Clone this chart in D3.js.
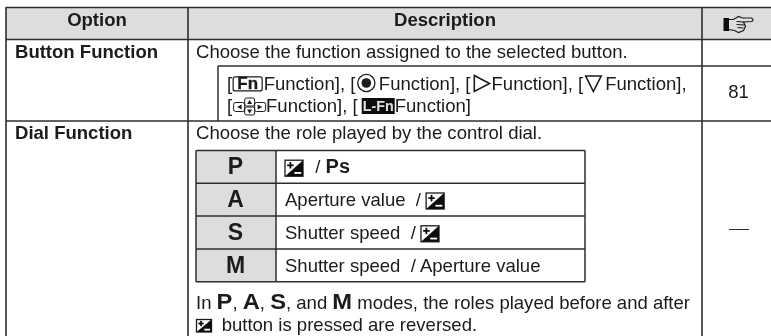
<!DOCTYPE html>
<html><head><meta charset="utf-8">
<script src="https://cdnjs.cloudflare.com/ajax/libs/d3/7.8.5/d3.min.js"></script>
<style>html,body{margin:0;padding:0;background:#fff}svg{display:block}text{font-family:"Liberation Sans",Arial,sans-serif;fill:#1a1a1a}</style>
</head><body><svg id="c" width="771" height="336"></svg>
<script>
const headers = ["Option","Description"];
const optionNames = ["Button Function","Dial Function"];
const intros = ["Choose the function assigned to the selected button.","Choose the role played by the control dial."];
const pageRefs = ["81","—"];
const modes = ["P","A","S","M"];
const functionLine1 = [["[",""],["","fn"],["Function], [",""],["","target"],["Function], [",""],["","right"],["Function], [",""],["","down"],["Function],",""]];
const functionLine2 = [["[",""],["","cross"],["Function], [",""],["","lfn"],["Function]",""]];
const modeRoles = [[["","ev"],["  / ",""],["Ps","b"]],[["Aperture value  / ",""],["","ev"]],[["Shutter speed  / ",""],["","ev"]],[["Shutter speed  / Aperture value",""]]];
const noteLine1 = [["In ",""],["P","B"],[", ",""],["A","B"],[", ",""],["S","B"],[", and ",""],["M","B"],[" modes, the roles played before and after",""]];
const noteLine2 = [["","ev"],[" button is pressed are reversed.",""]];

const W=771,H=336,FS=18.55,INK="#1a1a1a",LINE="#2e2e2e",GRAY="#dddddd";
const svg=d3.select("#c");
svg.append("defs").append("filter").attr("id","soft").attr("x",0).attr("y",0).attr("width","100%").attr("height","100%").append("feGaussianBlur").attr("stdDeviation",.35);
const g=svg.append("g").attr("filter","url(#soft)");
g.append("rect").attr("width",W).attr("height",H).attr("fill","#fff");
function rect(x,y,w,h,fill,p){return (p||g).append("rect").attr("x",x).attr("y",y).attr("width",w).attr("height",h).attr("fill",fill);}
function line(x1,y1,x2,y2,sw,p){return (p||g).append("line").attr("x1",x1).attr("y1",y1).attr("x2",x2).attr("y2",y2).attr("stroke",LINE).attr("stroke-width",sw||1.5);}
function txt(x,y,s,o={}){const t=(o.p||g).append("text").attr("x",x).attr("y",y).attr("font-size",o.size||FS).attr("font-weight",o.bold?"bold":"normal").attr("text-anchor",o.anchor||"start").attr("xml:space","preserve").style("white-space","pre").text(s);return t;}

const icons={
 fn(x,y){const n=g.append("g");n.append("rect").attr("x",x+1).attr("y",y-12.6).attr("width",29).attr("height",14).attr("rx",2).attr("fill","#fff").attr("stroke",INK).attr("stroke-width",1.2);
   txt(x+15.5,y-.3,"Fn",{p:n,bold:true,size:17,anchor:"middle"}).attr("stroke",INK).attr("stroke-width",.3);return 31.5;},
 target(x,y){const n=g.append("g").attr("fill","none");n.append("circle").attr("cx",x+11).attr("cy",y-6.5).attr("r",8.6).attr("stroke",INK).attr("stroke-width",1.3);n.append("circle").attr("cx",x+11).attr("cy",y-6.5).attr("r",4.8).attr("fill",INK);return 23.5;},
 right(x,y){g.append("path").attr("d",d3.line()([[x+3.8,y-14],[x+19,y-6],[x+3.8,y+2]])+"Z").attr("fill","none").attr("stroke",INK).attr("stroke-width",1.6);return 21;},
 down(x,y){g.append("path").attr("d",d3.line()([[x+2.5,y-13.5],[x+18,y-13.5],[x+10.2,y+2]])+"Z").attr("fill","none").attr("stroke",INK).attr("stroke-width",1.6);return 22;},
 cross(x,y){const n=g.append("g").attr("fill","none").attr("stroke",INK).attr("stroke-width",1);
   n.append("rect").attr("x",x+1.5).attr("y",y-9).attr("width",11).attr("height",9).attr("rx",2);
   n.append("rect").attr("x",x+12.5).attr("y",y-13.5).attr("width",10).attr("height",8).attr("rx",2);
   n.append("rect").attr("x",x+12.5).attr("y",y-4.5).attr("width",10).attr("height",8).attr("rx",2);
   n.append("rect").attr("x",x+22.5).attr("y",y-9).attr("width",11).attr("height",9).attr("rx",2);
   const tri=[[[x+9.5,y-7],[x+9.5,y-2],[x+5,y-4.5]],[[x+25.5,y-7],[x+25.5,y-2],[x+30,y-4.5]],[[x+15,y-7.5],[x+20,y-7.5],[x+17.5,y-11.5]],[[x+15,y-2],[x+20,y-2],[x+17.5,y+2]]];
   tri.forEach(t=>g.append("path").attr("d",d3.line()(t)+"Z").attr("fill",INK));return 33.9;},
 lfn(x,y){rect(x+4,y-13.5,33,16,"#111");const t=txt(x+20.5,y-.5,"L-Fn",{bold:true,size:15,anchor:"middle"}).style("fill","#e0e0e0");t.attr("textLength",31).attr("lengthAdjust","spacingAndGlyphs");return 37;},
 ev(x,y,opt={}){const w=opt.w||18,h=opt.h||16,d=opt.d===undefined?3:opt.d,top=y+d-h,n=g.append("g");
   rect(x,top,w,h,"#fff",n).attr("stroke",INK).attr("stroke-width",1.3);
   n.append("path").attr("d",d3.line()([[x,y+d],[x+w,top],[x+w,y+d]])+"Z").attr("fill","#111");
   const a=x+w*.3,b=top+h*.32,u=w*.18;rect(a-u,b-.9,2*u,1.8,"#111",n);rect(a-.9,b-u,1.8,2*u,"#111",n);rect(x+w*.52,top+h*.74,w*.38,1.8,"#fff",n);return w+(opt.gap||2);}
};
function flow(x,y,runs,opt={}){let cx=x;runs.forEach(([s,k])=>{
  if(s===""){cx+=icons[k](cx,y,opt.ev);return;}
  const big=k==="B",bold=k==="b"||big;
  const t=txt(cx,y,s,{bold:bold,size:big?22:(k==="b"?20:FS)});
  let adv=t.node().getComputedTextLength();
  if(big){adv*=1.077;t.attr("textLength",adv).attr("lengthAdjust","spacingAndGlyphs");}
  cx+=adv;});return cx;}

const colX=[6,188,702,W],rowY=[7.5,39.5];
g.selectAll(".hd").data(d3.pairs(colX)).join("rect").attr("x",d=>d[0]).attr("y",rowY[0]).attr("width",d=>d[1]-d[0]).attr("height",rowY[1]-rowY[0]).attr("fill",GRAY);
[7.5,39.5,121].forEach(y=>line(6,y,W,y));
line(218,66,W,66);
colX.slice(0,3).forEach(x=>line(x,7,x,H,1.6));
line(218,66,218,121);
g.selectAll(".ht").data(headers).join("text").attr("x",(d,i)=>(colX[i]+colX[i+1])/2).attr("y",26).attr("text-anchor","middle").attr("font-weight","bold").attr("font-size",FS).text(d=>d);
(function(x,y){const n=g.append("g").attr("fill","none").attr("stroke",INK).attr("stroke-width",1.2);
  rect(x,y-6.5,5.5,13,"#111",n).attr("stroke","none");
  n.append("path").attr("d","M"+[x+5,y-5]+"L"+[x+10,y-5]+"L"+[x+15,y-8]+"L"+[x+19,y-6.5]+"L"+[x+28,y-6.5]+"Q"+[x+31,y-4.5]+" "+[x+28,y-3]+"L"+[x+20,y-2.5]+"L"+[x+22,y+2]+"L"+[x+20,y+6]+"L"+[x+15,y+8]+"L"+[x+11,y+6]+"L"+[x+5,y+5]);
  n.append("path").attr("d","M"+[x+13,y-3]+"L"+[x+20,y-2.5]+"M"+[x+13,y]+"L"+[x+21,y+.5]+"M"+[x+14,y+3]+"L"+[x+20,y+3.5]);
})(723.5,24.5);
g.selectAll(".on").data(optionNames).join("text").attr("x",15).attr("y",(d,i)=>[58,139][i]).attr("font-weight","bold").attr("font-size",FS).text(d=>d);
g.selectAll(".in").data(intros).join("text").attr("x",196).attr("y",(d,i)=>[58,139][i]).attr("font-size",FS).text(d=>d);
flow(227,89.5,functionLine1);
flow(227,111.5,functionLine2);
txt(738.5,98,pageRefs[0],{anchor:"middle"});
line(729,229.5,749,229.5,1);
const mx=[196,276,585],my=[150.5,183.3,216,249,281.7];
const band=d3.scaleBand().domain(modes).range([my[0],my[4]]);
g.selectAll(".mg").data(modes).join("rect").attr("x",mx[0]).attr("y",d=>band(d)).attr("width",mx[1]-mx[0]).attr("height",band.bandwidth()).attr("fill",GRAY);
my.forEach(y=>line(mx[0],y,mx[2],y));
mx.forEach(x=>line(x,my[0],x,my[4]));
g.selectAll(".ml").data(modes).join("text").attr("x",235.5).attr("y",d=>band(d)+band.bandwidth()/2+7.5).attr("text-anchor","middle").attr("font-weight","bold").attr("font-size",23).text(d=>d);
modeRoles.forEach((r,i)=>flow(285,band(modes[i])+band.bandwidth()/2+6.3,r));
flow(196,309.3,noteLine1);
flow(196.5,330.5,noteLine2,{ev:{w:15,h:12.5,d:1.5,gap:5}});
</script></body></html>
